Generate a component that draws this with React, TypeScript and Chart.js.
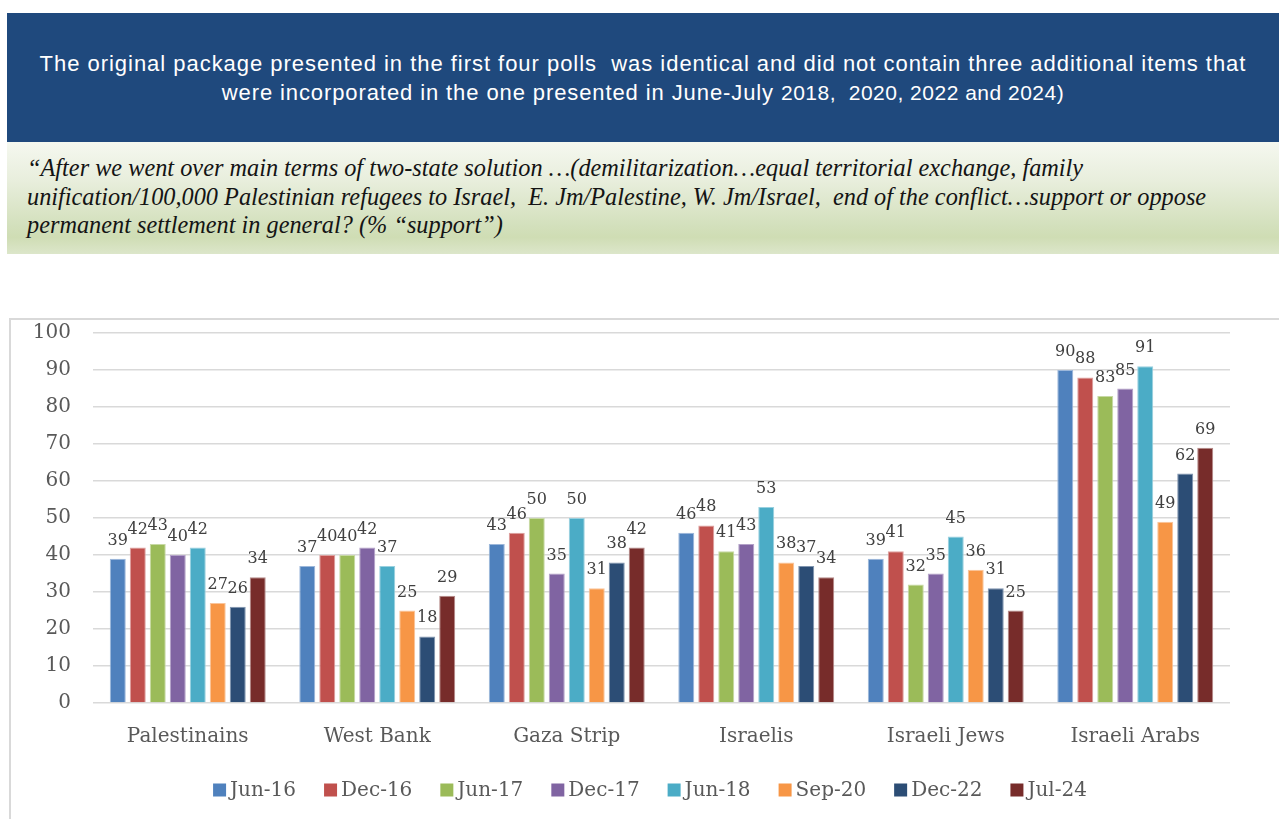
import React, { useEffect, useRef } from "react";
import { Chart, registerables } from "chart.js";

Chart.register(...registerables);

const categories = ["Palestinains", "West Bank", "Gaza Strip", "Israelis", "Israeli Jews", "Israeli Arabs"];
const seriesNames = ["Jun-16", "Dec-16", "Jun-17", "Dec-17", "Jun-18", "Sep-20", "Dec-22", "Jul-24"];
const seriesColors = ["#4F81BD", "#C0504D", "#9BBB59", "#8064A2", "#4BACC6", "#F79646", "#2C4D75", "#772C2A"];
const seriesBorders = ["#9CB7DA", "#DDA09E", "#C7D9A4", "#B3A1C8", "#98D0DF", "#FAC49A", "#7F94AF", "#B58A89"];

const jun16 = [39, 37, 43, 46, 39, 90];
const dec16 = [42, 40, 46, 48, 41, 88];
const jun17 = [43, 40, 50, 41, 32, 83];
const dec17 = [40, 42, 35, 43, 35, 85];
const jun18 = [42, 37, 50, 53, 45, 91];
const sep20 = [27, 25, 31, 38, 36, 49];
const dec22 = [26, 18, 38, 37, 31, 62];
const jul24 = [34, 29, 42, 34, 25, 69];

const seriesValues = [jun16, dec16, jun17, dec17, jun18, sep20, dec22, jul24];
const yTicks = [0, 10, 20, 30, 40, 50, 60, 70, 80, 90, 100];

const headerLine1 = "The original package presented in the first four polls  was identical and did not contain three additional items that";
const headerLine2a = "were incorporated in the one presented in June-July ";
const headerLine2b = "2018,  2020, 2022 and 2024)";
const questionLines = [
  "\u201CAfter we went over main terms of two-state solution \u2026(demilitarization\u2026equal territorial exchange, family",
  "unification/100,000 Palestinian refugees to Israel,  E. Jm/Palestine, W. Jm/Israel,  end of the conflict\u2026support or oppose",
  "permanent settlement in general? (% \u201Csupport\u201D)",
];

const FONT = '"DejaVu Serif", serif';

const valueLabels = {
  id: "valueLabels",
  afterDatasetsDraw(chart: any) {
    const ctx = chart.ctx;
    ctx.save();
    ctx.font = `16px ${FONT}`;
    ctx.fillStyle = "#404040";
    ctx.textAlign = "center";
    ctx.textBaseline = "alphabetic";
    chart.data.datasets.forEach((ds: any, i: number) => {
      const meta = chart.getDatasetMeta(i);
      meta.data.forEach((bar: any, j: number) => {
        ctx.fillText(String(ds.data[j]), bar.x, bar.y - 14);
      });
    });
    ctx.restore();
  },
};

const customLegend = {
  id: "customLegend",
  afterDraw(chart: any) {
    const ctx = chart.ctx;
    ctx.save();
    ctx.font = `20px ${FONT}`;
    ctx.textBaseline = "middle";
    ctx.textAlign = "left";
    const box = 13;
    const gap = 4;
    const spacing = 28;
    const items = chart.data.datasets.map((ds: any) => ({
      text: ds.label,
      color: ds.backgroundColor,
      w: box + gap + ctx.measureText(ds.label).width,
    }));
    const total = items.reduce((s: number, it: any) => s + it.w, 0) + spacing * (items.length - 1);
    let x = chart.width / 2 + 5 - total / 2;
    const cy = chart.height - 21;
    items.forEach((it: any) => {
      ctx.fillStyle = it.color;
      ctx.fillRect(x, cy - box / 2, box, box);
      ctx.fillStyle = "#595959";
      ctx.fillText(it.text, x + box + gap, cy + 1);
      x += it.w + spacing;
    });
    ctx.restore();
  },
};

export default function App() {
  const canvasRef = useRef<HTMLCanvasElement | null>(null);

  useEffect(() => {
    if (!canvasRef.current) return;
    const chart = new Chart(canvasRef.current, {
      type: "bar",
      data: {
        labels: categories,
        datasets: seriesNames.map((name, i) => ({
          label: name,
          data: seriesValues[i],
          backgroundColor: seriesColors[i],
          borderColor: seriesBorders[i],
          borderWidth: 1,
          categoryPercentage: 0.844,
          barPercentage: 0.8,
        })),
      },
      options: {
        responsive: false,
        animation: false,
        devicePixelRatio: 1,
        layout: { padding: { top: 13, right: 49, left: 0, bottom: 56 } },
        plugins: {
          tooltip: { enabled: false },
          legend: { display: false },
        },
        scales: {
          x: {
            grid: { display: false, drawTicks: false },
            border: { display: false },
            ticks: { color: "#595959", font: { family: FONT, size: 20 }, padding: 22 },
            afterFit: (scale: any) => {
              scale.height = 52;
            },
          },
          y: {
            min: 0,
            max: 100,
            afterBuildTicks: (scale: any) => {
              scale.ticks = yTicks.map((v) => ({ value: v }));
            },
            grid: { color: "#D9D9D9", lineWidth: 1.6, drawTicks: true, tickLength: 22, tickColor: "rgba(0,0,0,0)" },
            border: { display: false },
            ticks: { color: "#595959", font: { family: FONT, size: 20 }, padding: 0 },
            afterFit: (scale: any) => {
              scale.width = 82;
            },
          },
        },
      },
      plugins: [valueLabels, customLegend],
    } as any);
    return () => chart.destroy();
  }, []);

  return (
    <div style={{ position: "fixed", left: 0, top: 0, width: 1279, height: 819, background: "#fff", overflow: "hidden" }}>
      <div
        style={{
          position: "absolute",
          left: 7,
          top: 13,
          width: 1272,
          height: 129,
          background: "#1F497D",
          color: "#fff",
          fontFamily: '"Liberation Sans", Arial, sans-serif',
          lineHeight: "29px",
          textAlign: "center",
          whiteSpace: "pre",
        }}
      >
        <div style={{ position: "absolute", left: 0, right: 0, top: 36, fontSize: 22, letterSpacing: 0.97 }}>{headerLine1}</div>
        <div style={{ position: "absolute", left: 0, right: 0, top: 65, fontSize: 22, letterSpacing: 0.9 }}>
          {headerLine2a}
          <span style={{ fontSize: 21, letterSpacing: 0.5 }}>{headerLine2b}</span>
        </div>
      </div>
      <div
        style={{
          position: "absolute",
          left: 7,
          top: 142,
          width: 1272,
          height: 112,
          background: "linear-gradient(to bottom, #F5F8F0 0%, #E8EEDC 35%, #D3E0BC 75%, #CFDDB4 85%, #DCE6CA 100%)",
          color: "#141414",
          fontFamily: '"Liberation Serif", serif',
          fontStyle: "italic",
          fontSize: 24.3,
          lineHeight: "28.5px",
          whiteSpace: "pre",
        }}
      >
        {questionLines.map((t, i) => (
          <div key={i} style={{ position: "absolute", left: 20, top: 12 + i * 28.5 }}>
            {t}
          </div>
        ))}
      </div>
      <div
        style={{
          position: "absolute",
          left: 9,
          top: 318,
          width: 1300,
          height: 530,
          border: "2px solid #D9D9D9",
          boxSizing: "border-box",
        }}
      />
      <canvas
        ref={canvasRef}
        width={1268}
        height={491}
        style={{ position: "absolute", left: 11, top: 320, width: 1268, height: 491 }}
      />
    </div>
  );
}
